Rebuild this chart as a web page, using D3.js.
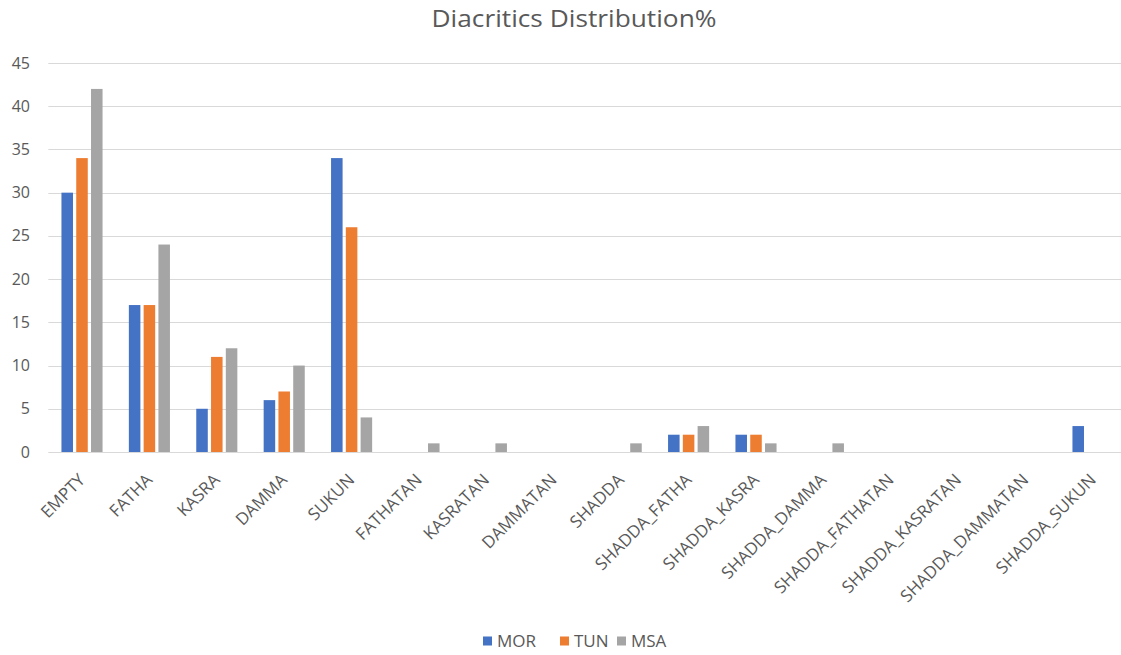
<!DOCTYPE html>
<html>
<head>
<meta charset="utf-8">
<script src="https://cdn.jsdelivr.net/npm/d3@7"></script>
<style>
  body { margin: 0; background: #fff; }
  text { font-family: "Open Sans", "Noto Sans", sans-serif; fill: #595959; }
</style>
</head>
<body>
<svg width="1121" height="655"></svg>
<script>
// categories and values
var categories = ["EMPTY", "FATHA", "KASRA", "DAMMA", "SUKUN", "FATHATAN", "KASRATAN", "DAMMATAN",
  "SHADDA", "SHADDA_FATHA", "SHADDA_KASRA", "SHADDA_DAMMA", "SHADDA_FATHATAN", "SHADDA_KASRATAN",
  "SHADDA_DAMMATAN", "SHADDA_SUKUN"];
var seriesNames = ["MOR", "TUN", "MSA"];
var mor = [30, 17, 5, 6, 34, 0, 0, 0, 0, 2, 2, 0, 0, 0, 0, 3];
var tun = [34, 17, 11, 7, 26, 0, 0, 0, 0, 2, 2, 0, 0, 0, 0, 0];
var msa = [42, 24, 12, 10, 4, 1, 1, 0, 1, 3, 1, 1, 0, 0, 0, 0];
var yTicks = [0, 5, 10, 15, 20, 25, 30, 35, 40, 45];
var colors = ["#4472C4", "#ED7D31", "#A5A5A5"];

var series = [mor, tun, msa];
var svg = d3.select("svg");

//plot area (window.top is taken, so use other names). right side runs a bit past the picture
var plotL = 48.3, plotR = 1126.7, plotT = 63, plotB = 452;

var x = d3.scaleBand().domain(categories).range([plotL, plotR]);
var x1 = d3.scaleBand().domain(seriesNames).range([0, x.bandwidth()]).paddingInner(0.22).paddingOuter(0.89);
var y = d3.scaleLinear().domain([0, 45]).range([plotB, plotT]);

// gridlines
svg.append("g").selectAll("line").data(yTicks).enter().append("line")
  .attr("x1", plotL).attr("x2", 1121)
  .attr("y1", function(d) { return Math.round(y(d)) + 0.5; })
  .attr("y2", function(d) { return Math.round(y(d)) + 0.5; })
  .attr("stroke", "#d9d9d9").attr("stroke-width", 1);

// y labels
svg.append("g").selectAll("text").data(yTicks).enter().append("text")
  .attr("x", 30).attr("y", function(d) { return y(d); })
  .attr("dy", "0.35em").attr("text-anchor", "end")
  .style("font-size", "16px")
  .text(function(d) { return d; });

// bars
var groups = svg.append("g").selectAll("g").data(categories).enter().append("g")
  .attr("transform", function(d) { return "translate(" + x(d) + ",0)"; });

groups.selectAll("rect")
  .data(function(c, i) { return seriesNames.map(function(s, k) { return {s: s, v: series[k][i], k: k}; }); })
  .enter().append("rect")
  .attr("x", function(d) { return x1(d.s); })
  .attr("width", x1.bandwidth())
  .attr("y", function(d) { return y(d.v); })
  .attr("height", function(d) { return plotB - y(d.v); })
  .attr("fill", function(d) { return colors[d.k]; });

// x labels, rotated
svg.append("g").selectAll("text").data(categories).enter().append("text")
  .attr("text-anchor", "end")
  .attr("transform", function(d) { return "translate(" + (x(d) + x.bandwidth() / 2 + 4) + ",481) rotate(-45)"; })
  .style("font-size", "17px")
  .text(function(d) { return d; });

// title
svg.append("text").attr("x", 574).attr("y", 27).attr("text-anchor", "middle")
  .attr("textLength", 285).attr("lengthAdjust", "spacingAndGlyphs")
  .style("font-size", "24px").text("Diacritics Distribution%");

// legend
var legend = svg.append("g").attr("transform", "translate(483,641)");
var lx = [0, 77, 134];
seriesNames.forEach(function(s, k) {
  var g = legend.append("g").attr("transform", "translate(" + lx[k] + ",0)");
  g.append("rect").attr("x", 0).attr("y", -4.5).attr("width", 9).attr("height", 9).attr("fill", colors[k]);
  g.append("text").attr("x", 14).attr("y", 0).attr("dy", "0.35em").style("font-size", "17px").text(s);
});
</script>
</body>
</html>
